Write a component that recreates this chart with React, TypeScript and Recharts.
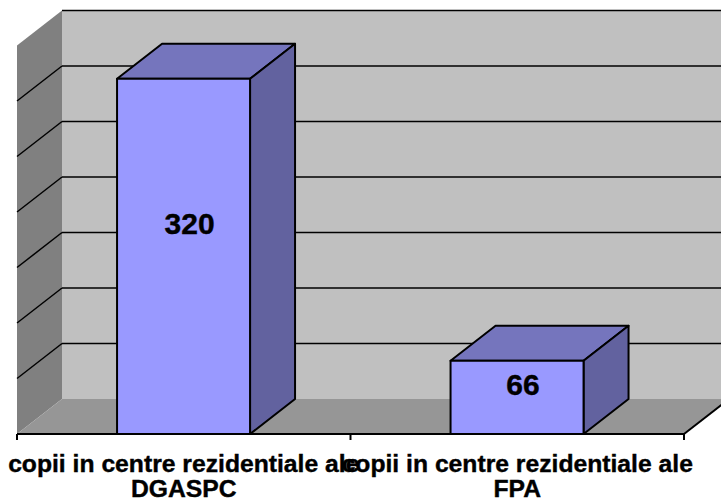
import { BarChart, Bar, XAxis, YAxis, ReferenceArea, CartesianGrid, LabelList } from "recharts";

const categories = ["copii in centre rezidentiale ale DGASPC", "copii in centre rezidentiale ale FPA"];
const firstLines = ["copii in centre rezidentiale ale", "copii in centre rezidentiale ale"];
const secondLines = ["DGASPC", "FPA"];
const counts = [320, 66];
const gridTicks = [0, 50, 100, 150, 200, 250, 300, 350];

const data = categories.map((category, i) => ({ category, count: counts[i] }));

const DX = 45;
const DY = 35;
const FONT = "'Liberation Sans', Arial, sans-serif";

function Walls({ x, y, width, height }: any) {
  const bottom = y + height;
  const right = x + width;
  return (
    <g>
      <polygon points={`${x + DX},${y - DY} ${right + DX},${y - DY} ${right + DX},${bottom - DY} ${x + DX},${bottom - DY}`} fill="#c0c0c0" />
      <polygon points={`${x},${y} ${x + DX},${y - DY} ${x + DX},${bottom - DY} ${x},${bottom}`} fill="#808080" />
      <polygon points={`${x},${bottom} ${x + DX},${bottom - DY} ${right + DX},${bottom - DY} ${right},${bottom}`} fill="#969696" />
      <line x1={right} y1={bottom} x2={right + DX} y2={bottom - DY} stroke="#000" strokeWidth={2} />
      {[0, 0.5, 1].map((f) => (
        <line key={f} x1={x + width * f} y1={bottom} x2={x + width * f} y2={bottom + 6} stroke="#000" strokeWidth={2} />
      ))}
    </g>
  );
}

function GridLine({ x1, y1, x2, y2, y, height }: any) {
  // no line on the floor, and the top one stays on the back wall only
  if (y1 >= y + height - 0.5) return <g />;
  const isTop = y1 <= y + 0.5;
  return (
    <g>
      <line x1={x1 + DX} y1={y1 - DY} x2={x2 + DX} y2={y2 - DY} stroke="#000" strokeWidth={1.5} />
      {!isTop && <line x1={x1} y1={y1} x2={x1 + DX} y2={y1 - DY} stroke="#000" strokeWidth={1.5} />}
    </g>
  );
}

function Bar3D({ x, y, width, height }: any) {
  const bottom = y + height;
  const right = x + width;
  return (
    <g stroke="#000" strokeWidth={2} strokeLinejoin="round">
      <polygon points={`${x},${y} ${x + DX},${y - DY} ${right + DX},${y - DY} ${right},${y}`} fill="#7575bd" />
      <polygon points={`${right},${y} ${right + DX},${y - DY} ${right + DX},${bottom - DY} ${right},${bottom}`} fill="#62629f" />
      <rect x={x} y={y} width={width} height={height} fill="#9999ff" />
    </g>
  );
}

function BarValue({ x, y, width, height, value }: any) {
  return (
    <text
      x={x + width / 2 + 6}
      y={y + height * 0.43 - 8}
      textAnchor="middle"
      dominantBaseline="central"
      fontFamily={FONT}
      fontWeight="bold"
      fontSize={30}
      fill="#000"
      stroke="#000"
      strokeWidth={0.4}
    >
      {value}
    </text>
  );
}

function CategoryTick({ x, y, index }: any) {
  return (
    <text textAnchor="middle" fontFamily={FONT} fontWeight="bold" fontSize={24.7} fill="#000" stroke="#000" strokeWidth={0.4}>
      <tspan x={x} y={y + 30}>{firstLines[index]}</tspan>
      <tspan x={x} y={y + 55}>{secondLines[index]}</tspan>
    </text>
  );
}

export default function App() {
  return (
    <div style={{ position: "absolute", left: 0, top: 0, width: 721, height: 501 }}>
      <BarChart
        width={721}
        height={501}
        data={data}
        barCategoryGap="30%"
        margin={{ top: 45.5, right: 37, bottom: 0, left: 17 }}
      >
        <ReferenceArea y1={0} y2={350} shape={<Walls />} ifOverflow="visible" zIndex={-200} />
        <CartesianGrid vertical={false} horizontal={<GridLine />} />
        <XAxis
          dataKey="category"
          height={67}
          interval={0}
          tickLine={false}
          axisLine={{ stroke: "#000", strokeWidth: 2 }}
          tick={<CategoryTick />}
        />
        <YAxis hide domain={[0, 350]} ticks={gridTicks} />
        <Bar dataKey="count" isAnimationActive={false} shape={<Bar3D />}>
          <LabelList dataKey="count" content={<BarValue />} />
        </Bar>
      </BarChart>
    </div>
  );
}
